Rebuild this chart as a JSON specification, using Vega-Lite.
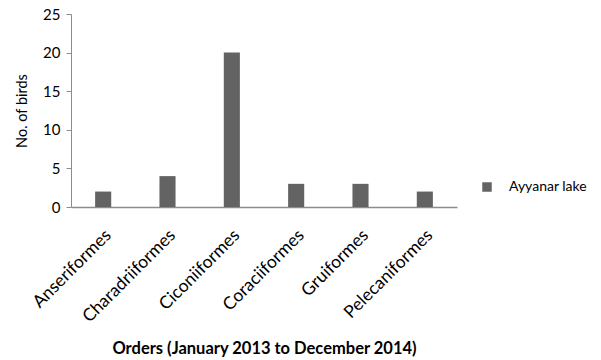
{
  "$schema": "https://vega.github.io/schema/vega-lite/v6.json",
  "autosize": {"type": "none"},
  "width": 386,
  "height": 193,
  "padding": {"left": 71, "top": 14, "right": 144, "bottom": 153},
  "background": "white",
  "config": {
    "view": {"stroke": null},
    "font": "Lato",
    "axis": {"domainColor": "#8c8c8c", "tickColor": "#8c8c8c", "grid": false, "labelColor": "#000000", "titleColor": "#000000", "labelFont": "Lato", "titleFont": "Lato"}
  },
  "data": {"values": [
    {"order": "Anseriformes", "count": 2, "site": "Ayyanar lake"},
    {"order": "Charadriiformes", "count": 4, "site": "Ayyanar lake"},
    {"order": "Ciconiiformes", "count": 20, "site": "Ayyanar lake"},
    {"order": "Coraciiformes", "count": 3, "site": "Ayyanar lake"},
    {"order": "Gruiformes", "count": 3, "site": "Ayyanar lake"},
    {"order": "Pelecaniformes", "count": 2, "site": "Ayyanar lake"}
  ]},
  "mark": {"type": "bar"},
  "encoding": {
    "x": {
      "field": "order", "type": "nominal", "sort": null,
      "scale": {"paddingInner": 0.75, "paddingOuter": 0.375},
      "axis": {"labelAngle": -45, "labelFontSize": 17.5, "ticks": false, "labelPadding": 19, "labelOffset": -1, "domainWidth": 1.5,
        "title": "Orders (January  2013 to December 2014)", "titleFontSize": 16.5, "titleFontWeight": "bold",
        "titleY": 141, "titleBaseline": "middle", "titleAnchor": "middle", "titleAlign": "center"}
    },
    "y": {
      "field": "count", "type": "quantitative",
      "scale": {"domain": [0, 25]},
      "axis": {"values": [0, 5, 10, 15, 20, 25], "labelFontSize": 15, "tickSize": 5, "labelPadding": 6, "domainWidth": 1,
        "title": "No. of birds", "titleFontSize": 14.5, "titleFontWeight": "normal", "titlePadding": 13}
    },
    "color": {
      "field": "site", "type": "nominal",
      "scale": {"range": ["#636363"]},
      "legend": {"title": null, "orient": "none", "legendX": 409, "legendY": 166, "symbolType": "square", "symbolSize": 90, "labelFontSize": 14, "labelOffset": 15, "symbolStrokeWidth": 0}
    }
  }
}
